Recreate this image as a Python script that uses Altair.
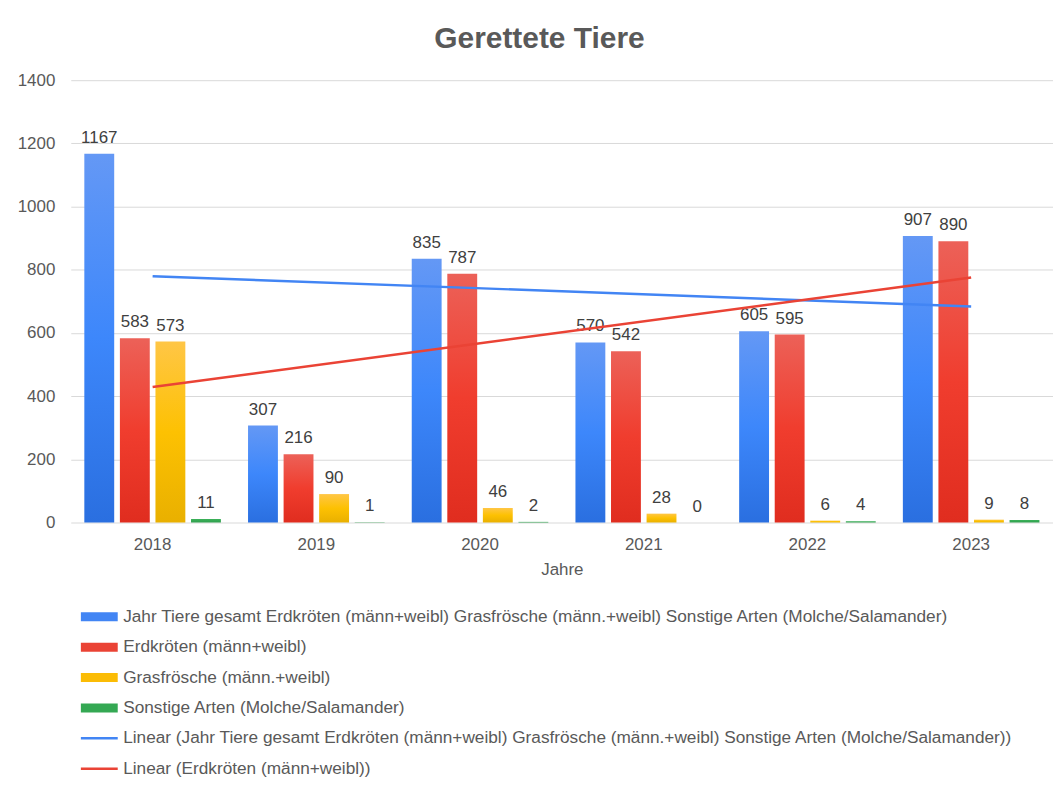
import altair as alt
import pandas as pd

years = [2018, 2019, 2020, 2021, 2022, 2023]
series = [
    "Jahr Tiere gesamt Erdkröten (männ+weibl) Grasfrösche (männ.+weibl) Sonstige Arten (Molche/Salamander)",
    "Erdkröten (männ+weibl)",
    "Grasfrösche (männ.+weibl)",
    "Sonstige Arten (Molche/Salamander)",
]
gesamt = [1167, 307, 835, 570, 605, 907]
erdkroeten = [583, 216, 787, 542, 595, 890]
grasfroesche = [573, 90, 46, 28, 6, 9]
sonstige = [11, 1, 2, 0, 4, 8]
trend_labels = ["Linear (" + series[0] + ")", "Linear (" + series[1] + ")"]

values = [gesamt, erdkroeten, grasfroesche, sonstige]
rows = []
for s, vals in zip(series, values):
    for y, v in zip(years, vals):
        rows.append({"Jahr": y, "Serie": s, "Wert": v})
df = pd.DataFrame(rows)

FONT = "Liberation Sans"
GRAY = "#595959"
FS = 17


def grad(stops):
    return alt.Gradient(
        gradient="linear", x1=0, y1=0, x2=0, y2=1,
        stops=[alt.GradientStop(offset=o, color=c) for o, c in stops],
    )


grads = [
    grad([(0, "#6498f5"), (0.5, "#3d87fb"), (1, "#2a6fe0")]),
    grad([(0, "#ec6158"), (0.5, "#f03d2e"), (1, "#e02d1f")]),
    grad([(0, "#ffc646"), (0.5, "#fdc102"), (1, "#e9b000")]),
    grad([(0, "#3cb25a"), (1, "#2f9e4d")]),
]

X = alt.X(
    "Jahr:O",
    scale=alt.Scale(domain=years, paddingInner=0.131, paddingOuter=0.0655),
    axis=alt.Axis(
        title="Jahre", labelAngle=0, labelFontSize=FS, labelColor=GRAY, labelFont=FONT,
        titleFontSize=FS, titleColor=GRAY, titleFont=FONT, titleFontWeight="normal",
        labelPadding=14, titlePadding=9, domain=False, ticks=False, grid=False,
    ),
)
XO = alt.XOffset("Serie:N", scale=alt.Scale(domain=series, paddingInner=0.16, paddingOuter=0.08))
Y = alt.Y(
    "Wert:Q",
    scale=alt.Scale(domain=[0, 1400]),
    axis=alt.Axis(
        title=None, values=[0, 200, 400, 600, 800, 1000, 1200, 1400], format="d",
        labelFontSize=FS, labelColor=GRAY, labelFont=FONT, labelPadding=16,
        domain=False, ticks=False, gridColor="#d9d9d9", gridWidth=1,
    ),
)

layers = []
for s, g in zip(series, grads):
    layers.append(
        alt.Chart(df)
        .transform_filter(alt.FieldEqualPredicate(field="Serie", equal=s))
        .mark_bar(color=g)
        .encode(x=X, xOffset=XO, y=Y)
    )

layers.append(
    alt.Chart(df)
    .mark_text(fontSize=FS, font=FONT, color="#404040", baseline="alphabetic", dy=-11)
    .encode(x=X, xOffset=XO, y=Y, text="Wert:Q")
)

line_colors = ["#4285f4", "#ea4335"]
for s, c in zip(series[:2], line_colors):
    layers.append(
        alt.Chart(df)
        .transform_filter(alt.FieldEqualPredicate(field="Serie", equal=s))
        .transform_regression("Jahr", "Wert")
        .mark_line(color=c, strokeWidth=2.5)
        .encode(x=X, y=Y)
    )

legend_domain = series + trend_labels
legend_colors = ["#4285f4", "#ea4335", "#fbbc05", "#34a853", "#4285f4", "#ea4335"]
rect_path = "M-3.7,-0.9H3.7V0.9H-3.7Z"
line_path = "M-3.7,-0.25H3.7V0.25H-3.7Z"
legend_shapes = [rect_path] * 4 + [line_path] * 2

leg = alt.Legend(
    title=None, orient="none", legendX=20, legendY=530, direction="vertical",
    labelFontSize=17.3, labelFont=FONT, labelColor=GRAY, labelLimit=2000,
    symbolSize=100, symbolStrokeWidth=0, symbolOpacity=1, rowPadding=12.5,
    labelOffset=15.3, padding=0,
)
legend_df = pd.DataFrame({"Serie": legend_domain})
layers.append(
    alt.Chart(legend_df)
    .transform_filter("false")
    .mark_point(filled=True, opacity=1)
    .encode(
        color=alt.Color("Serie:N", scale=alt.Scale(domain=legend_domain, range=legend_colors), legend=leg),
        shape=alt.Shape("Serie:N", scale=alt.Scale(domain=legend_domain, range=legend_shapes), legend=leg),
    )
)

chart = (
    alt.layer(*layers)
    .properties(
        width=986, height=444,
        title=alt.TitleParams(
            "Gerettete Tiere", fontSize=30, font=FONT, fontWeight="bold", color=GRAY,
            anchor="middle", dx=-22.5, offset=17,
        ),
        autosize=alt.AutoSizeParams(type="none"),
        padding={"left": 63, "top": 71, "right": 0, "bottom": 254},
    )
    .configure_view(stroke=None)
)

chart.save("out.html", embed_options={"renderer": "svg", "actions": False})
